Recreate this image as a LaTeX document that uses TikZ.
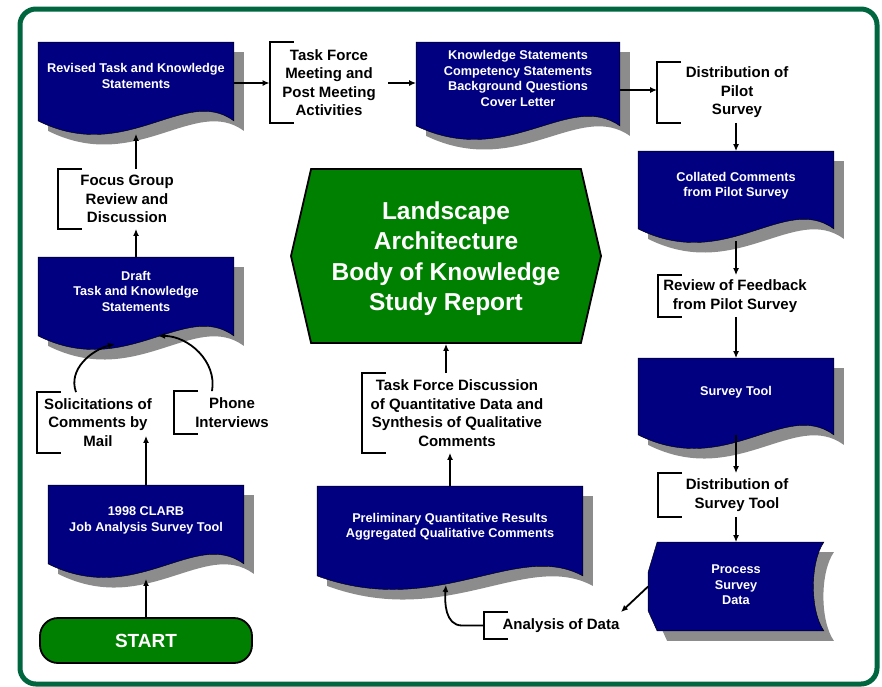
\documentclass[tikz,border=0pt]{standalone}
\usepackage{fontspec}
\setmainfont{Liberation Sans}
\usetikzlibrary{arrows.meta, calc, shapes.symbols, backgrounds}

\definecolor{boxblue}{RGB}{0,0,128}
\definecolor{shadowgray}{RGB}{140,140,140}
\definecolor{reportgreen}{RGB}{0,128,0}
\definecolor{framegreen}{RGB}{0,102,64}

\begin{document}
\begin{tikzpicture}[
		x=1pt, y=-1pt,
		>={Latex[length=7pt,width=6pt]},
		line width=1.8pt,
		doc/.style={align=center, text=white, inner sep=0pt, text depth=11pt, font=\bfseries\fontsize{12.7}{15.5}\selectfont},
		note/.style={align=center, inner sep=0pt, font=\bfseries\fontsize{15}{18.5}\selectfont},
		hexa/.style={signal, signal to=west and east, signal pointer angle=154, draw, fill=reportgreen, text=white, align=center, inner sep=0pt, text depth=-3pt, minimum width=310pt, minimum height=174pt, font=\bfseries\fontsize{24.5}{30.5}\selectfont},
		startbox/.style={rectangle, rounded corners=18pt, draw, fill=reportgreen, text=white, minimum width=212pt, minimum height=45pt, font=\bfseries\fontsize{19}{23}\selectfont},
		docpath/.style={insert path={(#1.north east) -- (#1.north west) -- (#1.south west)
			.. controls ($(#1.south west)!0.45!(#1.south east)+(0pt,-44pt)$) and ($(#1.south west)!0.75!(#1.south east)+(0pt,36pt)$) .. (#1.south east) -- cycle}},
		storepath/.style={insert path={([xshift=9pt]#1.north west) -- ([yshift=-30pt]#1.north west) -- ([yshift=20pt]#1.south west) -- ([xshift=9pt]#1.south west) -- (#1.south east)
			.. controls +(-14pt,20pt) and +(-14pt,-20pt) .. (#1.north east) -- cycle}}
	]

	\useasboundingbox (0,0) rectangle (882,686);
	\draw[framegreen, line width=5pt, rounded corners=16pt] (20,9) rectangle (877,684);

	% Documents
	\node[doc, minimum width=194pt, minimum height=77pt] (revised) at (136,81.5) {Revised Task and Knowledge\\Statements};
	\node[doc, minimum width=202pt, minimum height=82pt] (keystat) at (518,84) {Knowledge Statements\\Competency Statements\\Background Questions\\Cover Letter};
	\node[doc, minimum width=194pt, minimum height=76pt] (collated) at (736,190) {Collated Comments\\from Pilot Survey};
	\node[doc, minimum width=194pt, minimum height=75pt] (surveytool) at (736,396.5) {Survey Tool};
	\node[doc, minimum width=264pt, minimum height=88pt] (prelim) at (450,531) {Preliminary Quantitative Results\\Aggregated Qualitative Comments};
	\node[doc, minimum width=194pt, minimum height=77pt] (draft) at (136,296.5) {Draft\\Task and Knowledge\\Statements};
	\node[doc, minimum width=194pt, minimum height=77pt] (clarb) at (146,524.5) {1998 CLARB\\Job Analysis Survey Tool};
	\node[doc, text depth=3pt, minimum width=174pt, minimum height=87pt] (process) at (736,586.5) {Process\\Survey\\Data};

	\node[hexa] (report) at (446,256) {Landscape\\Architecture\\Body of Knowledge\\Study Report};
	\node[startbox] (start) at (146,640.5) {START};

	% Steps
	\node[note, minimum width=117pt, minimum height=79pt] (meet) at (329,82.5) {Task Force\\Meeting and\\Post Meeting\\Activities};
	\node[note, minimum width=158pt, minimum height=59pt] (pilotdist) at (737,92.5) {Distribution of\\Pilot\\Survey};
	\node[note, minimum width=152pt, minimum height=40pt] (review) at (735,296) {Review of Feedback\\from Pilot Survey};
	\node[note, minimum width=156pt, minimum height=42pt] (surveydist) at (737,495) {Distribution of\\Survey Tool};
	\node[note, minimum width=136pt, minimum height=58pt] (focus) at (127,199) {Focus Group\\Review and\\Discussion};
	\node[note, minimum width=120pt, minimum height=59pt] (solicit) at (98,422.5) {Solicitations of\\Comments by\\Mail};
	\node[note, minimum width=114pt, minimum height=41pt] (phone) at (232,412.5) {Phone\\Interviews};
	\node[note, minimum width=188pt, minimum height=78pt] (discuss) at (457,413) {Task Force Discussion\\of Quantitative Data and\\Synthesis of Qualitative\\Comments};
	\node[note, minimum width=152pt, minimum height=25pt] (analysis) at (561,625.5) {Analysis of Data};

	\foreach \n in {meet,pilotdist,review,surveydist,focus,solicit,phone,discuss,analysis}
		\draw ([xshift=24pt]\n.north west) -- (\n.north west) -- (\n.south west) -- ([xshift=24pt]\n.south west);

	\begin{scope}[on background layer]
		\fill[white] (0,0) rectangle (882,686);
		\foreach \n in {revised,keystat,collated,surveytool,prelim,draft,clarb}{
			\fill[shadowgray, transform canvas={shift={(10pt,-10pt)}}, docpath=\n];
			\filldraw[fill=boxblue, docpath=\n];
		}
		\fill[shadowgray, transform canvas={shift={(10pt,-10pt)}}, storepath=process];
		\filldraw[fill=boxblue, storepath=process];
	\end{scope}

	% Arrows
	\draw[->] (start) -- ([yshift=-15pt]clarb.south);
	\draw[->] (clarb.north) -- ($(clarb.north |- solicit.south)+(0pt,17pt)$);
	\draw[->] ([xshift=-22pt]solicit.north) to[out=110, in=195] ([xshift=-21pt, yshift=-8pt]draft.south);
	\draw[->] ([xshift=-20pt]phone.north) to[out=80, in=0] ([xshift=22pt]draft.south);
	\draw[->] (draft.north) -- (draft.north |- focus.south);
	\draw[->] (focus.north -| revised.south) -- ([yshift=-13pt]revised.south);
	\draw[->] ([yshift=-1.5pt]revised.east) -- ($(revised.east -| meet.west)+(0pt,-1.5pt)$);
	\draw[->] ([yshift=-0.5pt]meet.east) -- ($(meet.east -| keystat.west)+(0pt,-0.5pt)$);
	\draw[->] ([yshift=-6pt]keystat.east) -- ($(keystat.east -| pilotdist.west)+(0pt,-6pt)$);
	\draw[->] (collated.north |- pilotdist.south) -- (collated.north);
	\draw[->] ([yshift=-12pt]collated.south) -- (collated.south |- review.north);
	\draw[->] (review.south -| surveytool.north) -- (surveytool.north);
	\draw[->] (surveytool.south) -- (surveytool.south |- surveydist.north);
	\draw[->] (process.north |- surveydist.south) -- (process.north);
	\draw[->] (process.west) -- ([xshift=-17pt]analysis.north east);
	\draw[->] (analysis.west) -- ++(-22,0) to[out=180, in=-95] ([xshift=-4pt, yshift=-9pt]prelim.south);
	\draw[->] (prelim.north) -- (prelim.north |- discuss.south);
	\draw[->] (discuss.north -| report.south) -- (report.south);

\end{tikzpicture}
\end{document}
